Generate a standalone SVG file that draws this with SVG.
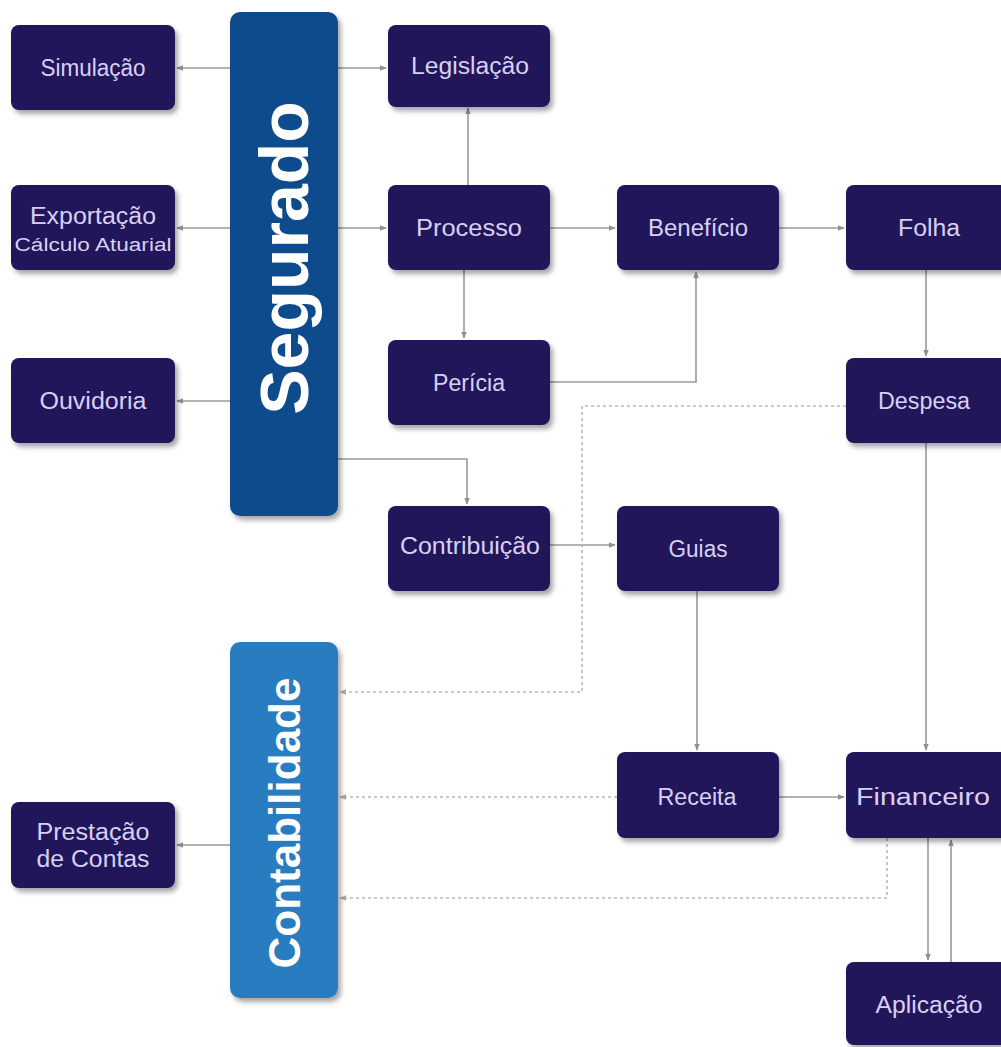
<svg xmlns="http://www.w3.org/2000/svg" width="1001" height="1047" viewBox="0 0 1001 1047">
<defs>
<filter id="sh" x="-10%" y="-10%" width="125%" height="130%">
<feDropShadow dx="3" dy="4" stdDeviation="2.5" flood-color="#000" flood-opacity="0.35"/>
</filter>
<marker id="ar" viewBox="0 0 10 10" refX="9" refY="5" markerWidth="7" markerHeight="7" orient="auto" markerUnits="userSpaceOnUse">
<path d="M0,1 L10,5 L0,9 z" fill="#8f8f8f"/>
</marker>
<marker id="ard" viewBox="0 0 10 10" refX="9" refY="5" markerWidth="7" markerHeight="7" orient="auto" markerUnits="userSpaceOnUse">
<path d="M0,1 L10,5 L0,9 z" fill="#aaaaaa"/>
</marker>
</defs>
<style>
.box{fill:#21145a;filter:url(#sh)}
.t{font-family:"Liberation Sans",Arial,sans-serif;font-size:23px;fill:#d8d0f4;text-anchor:middle}
.s{font-size:18px}
.big{font-family:"Liberation Sans",Arial,sans-serif;font-weight:bold;fill:#fff;text-anchor:middle}
.c{fill:none;stroke:#9a9a9a;stroke-width:1.6;marker-end:url(#ar)}
.d{fill:none;stroke:#b8b8b8;stroke-width:1.6;stroke-dasharray:3 3;marker-end:url(#ard)}
</style>
<rect width="1001" height="1047" fill="#fff"/>

<g id="connectors">
<path class="c" d="M230,68 H177"/>
<path class="c" d="M338,68 H386"/>
<path class="c" d="M230,228 H177"/>
<path class="c" d="M338,228 H386"/>
<path class="c" d="M230,401 H177"/>
<path class="c" d="M338,459 H467 V504"/>
<path class="c" d="M468,185 V108"/>
<path class="c" d="M464,270 V338"/>
<path class="c" d="M550,228 H615"/>
<path class="c" d="M779,228 H844"/>
<path class="c" d="M550,382 H696 V272"/>
<path class="c" d="M926,270 V356"/>
<path class="c" d="M926,443 V750"/>
<path class="c" d="M550,545 H615"/>
<path class="c" d="M697,591 V750"/>
<path class="c" d="M779,797 H844"/>
<path class="c" d="M928,838 V960"/>
<path class="c" d="M951,962 V840"/>
<path class="c" d="M230,845 H177"/>
<path class="d" d="M846,406 H582 V692 H340"/>
<path class="d" d="M617,797 H340"/>
<path class="d" d="M887,838 V898 H340"/>
</g>

<g id="segurado">
<rect x="230" y="12" width="108" height="504" rx="10" fill="#0b4b8c" filter="url(#sh)"/>
<text class="big" font-size="68" transform="translate(308,258) rotate(-90)">Segurado</text>
</g>
<g id="contabilidade">
<rect x="230" y="642" width="108" height="356" rx="10" fill="#2b7cc0" filter="url(#sh)"/>
<text class="big" font-size="44" transform="translate(300,823) rotate(-90)">Contabilidade</text>
</g>

<g id="simulacao"><rect class="box" x="11" y="25" width="164" height="85" rx="8"/><text class="t" x="93" y="76" textLength="105" lengthAdjust="spacingAndGlyphs">Simulação</text></g>
<g id="legislacao"><rect class="box" x="388" y="25" width="162" height="82" rx="8"/><text class="t" x="470" y="74" textLength="118" lengthAdjust="spacingAndGlyphs">Legislação</text></g>
<g id="exportacao"><rect class="box" x="11" y="185" width="164" height="85" rx="8"/><text class="t" x="93" y="224" textLength="126" lengthAdjust="spacingAndGlyphs">Exportação</text><text class="t s" x="93" y="251" textLength="157" lengthAdjust="spacingAndGlyphs">Cálculo Atuarial</text></g>
<g id="processo"><rect class="box" x="388" y="185" width="162" height="85" rx="8"/><text class="t" x="469" y="236" textLength="106" lengthAdjust="spacingAndGlyphs">Processo</text></g>
<g id="beneficio"><rect class="box" x="617" y="185" width="162" height="85" rx="8"/><text class="t" x="698" y="236" textLength="100" lengthAdjust="spacingAndGlyphs">Benefício</text></g>
<g id="folha"><rect class="box" x="846" y="185" width="164" height="85" rx="8"/><text class="t" x="929" y="236" textLength="62" lengthAdjust="spacingAndGlyphs">Folha</text></g>
<g id="ouvidoria"><rect class="box" x="11" y="358" width="164" height="85" rx="8"/><text class="t" x="93" y="409" textLength="107" lengthAdjust="spacingAndGlyphs">Ouvidoria</text></g>
<g id="pericia"><rect class="box" x="388" y="340" width="162" height="85" rx="8"/><text class="t" x="469" y="391" textLength="72" lengthAdjust="spacingAndGlyphs">Perícia</text></g>
<g id="despesa"><rect class="box" x="846" y="358" width="164" height="85" rx="8"/><text class="t" x="924" y="409" textLength="92" lengthAdjust="spacingAndGlyphs">Despesa</text></g>
<g id="contribuicao"><rect class="box" x="388" y="506" width="162" height="85" rx="8"/><text class="t" x="470" y="554" textLength="140" lengthAdjust="spacingAndGlyphs">Contribuição</text></g>
<g id="guias"><rect class="box" x="617" y="506" width="162" height="85" rx="8"/><text class="t" x="698" y="557" textLength="59" lengthAdjust="spacingAndGlyphs">Guias</text></g>
<g id="receita"><rect class="box" x="617" y="752" width="162" height="86" rx="8"/><text class="t" x="697" y="805" textLength="79" lengthAdjust="spacingAndGlyphs">Receita</text></g>
<g id="financeiro"><rect class="box" x="846" y="752" width="164" height="86" rx="8"/><text class="t" x="923" y="805" textLength="134" lengthAdjust="spacingAndGlyphs">Financeiro</text></g>
<g id="aplicacao"><rect class="box" x="846" y="962" width="164" height="83" rx="8"/><text class="t" x="929" y="1013" textLength="107" lengthAdjust="spacingAndGlyphs">Aplicação</text></g>
<g id="prestacao"><rect class="box" x="11" y="802" width="164" height="86" rx="8"/><text class="t" x="93" y="840" textLength="113" lengthAdjust="spacingAndGlyphs">Prestação</text><text class="t" x="93" y="867" textLength="113" lengthAdjust="spacingAndGlyphs">de Contas</text></g>
</svg>
